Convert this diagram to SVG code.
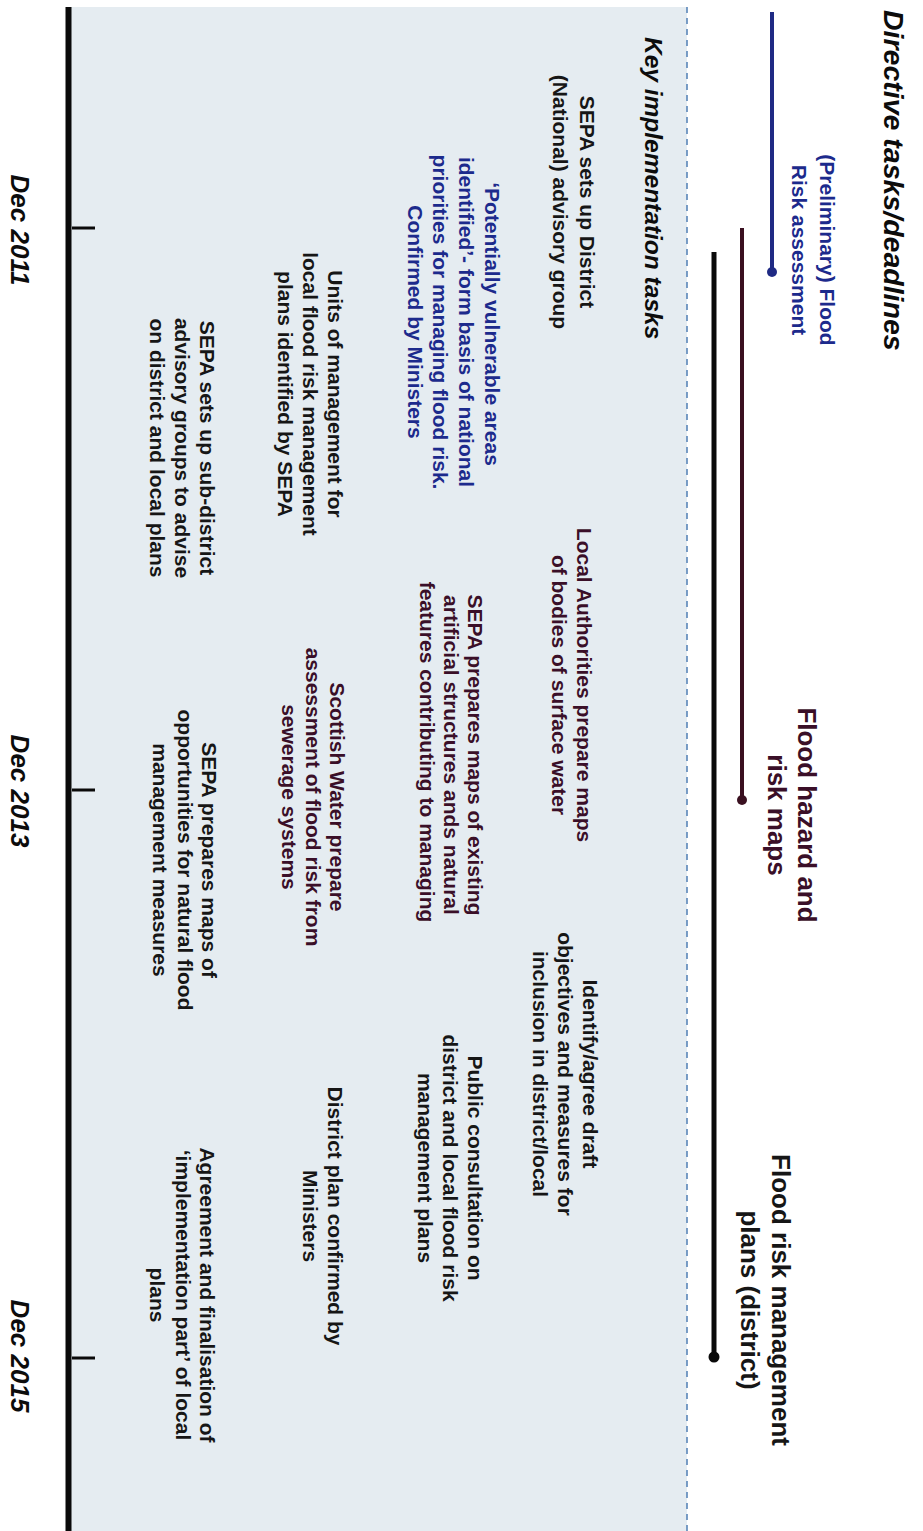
<svg xmlns="http://www.w3.org/2000/svg" width="923" height="1531" viewBox="0 0 923 1531">
<style>
text{font-family:"Liberation Sans",Arial,Helvetica,sans-serif;font-weight:bold;}
.b{font-size:21px;text-anchor:middle;}
.k{fill:#161616;}
.bl{fill:#1c2a8c;}
.m{fill:#3a0f28;}
.h{font-size:26px;text-anchor:middle;}
.it{font-style:italic;fill:#0c0c0c;}
</style>
<rect width="923" height="1531" fill="#ffffff"/>
<g transform="translate(923 0) rotate(90)">
  <g id="panel">
    <rect x="7" y="236" width="1524" height="617" fill="#e5ecf1"/>
    <line x1="7" y1="236" x2="1531" y2="236" stroke="#5a86b8" stroke-width="1.6" stroke-dasharray="6 5"/>
  </g>
  <g id="axis">
    <line x1="7" y1="854.5" x2="1531" y2="854.5" stroke="#0a0a0a" stroke-width="6"/>
    <line x1="228" y1="851" x2="228" y2="828" stroke="#0a0a0a" stroke-width="3"/>
    <line x1="790" y1="851" x2="790" y2="828" stroke="#0a0a0a" stroke-width="3"/>
    <line x1="1358" y1="851" x2="1358" y2="828" stroke="#0a0a0a" stroke-width="3"/>
  </g>
  <g id="dates">
    <text class="it" x="230" y="912" font-size="26" text-anchor="middle">Dec 2011</text>
    <text class="it" x="791" y="912" font-size="26" text-anchor="middle">Dec 2013</text>
    <text class="it" x="1356" y="912" font-size="26" text-anchor="middle">Dec 2015</text>
  </g>
  <g id="connectors">
    <line x1="12" y1="151" x2="272" y2="151" stroke="#1f2a84" stroke-width="4"/>
    <circle cx="272" cy="151" r="5" fill="#1f2a84"/>
    <line x1="228" y1="181" x2="800" y2="181" stroke="#3a1020" stroke-width="4"/>
    <circle cx="800" cy="181" r="5" fill="#3a1020"/>
    <line x1="252" y1="209" x2="1357" y2="209" stroke="#0a0a0a" stroke-width="5"/>
    <circle cx="1357" cy="209" r="5.5" fill="#0a0a0a"/>
  </g>
  <g id="title-directive">
    <text class="it" x="10" y="39" font-size="28.5">Directive tasks/deadlines</text>
  </g>
  <g id="title-key">
    <text class="it" x="37" y="278" font-size="24.5">Key implementation tasks</text>
  </g>
  <g id="task-preliminary">
    <text class="b bl" x="250" y="103">(Preliminary) Flood</text>
    <text class="b bl" x="250" y="131">Risk assessment</text>
  </g>
  <g id="task-hazard-maps">
    <text class="h m" x="815" y="125">Flood hazard and</text>
    <text class="h m" x="815" y="155">risk maps</text>
  </g>
  <g id="task-frmp">
    <text class="h k" x="1300" y="151">Flood risk management</text>
    <text class="h k" x="1300" y="182">plans (district)</text>
  </g>
  <g id="n-advisory">
    <text class="b k" x="202" y="343">SEPA sets up District</text>
    <text class="b k" x="202" y="370">(National) advisory group</text>
  </g>
  <g id="n-pva">
    <text class="b bl" x="324" y="438">‘Potentially vulnerable areas</text>
    <text class="b bl" x="322" y="464">identified’- form basis of national</text>
    <text class="b bl" x="322" y="490">priorities for managing flood risk.</text>
    <text class="b bl" x="322" y="515">Confirmed by Ministers</text>
  </g>
  <g id="n-units">
    <text class="b k" x="394" y="595">Units of management for</text>
    <text class="b k" x="394" y="620">local flood risk management</text>
    <text class="b k" x="394" y="645">plans identified by SEPA</text>
  </g>
  <g id="n-subdistrict">
    <text class="b k" x="448" y="723">SEPA sets up sub-district</text>
    <text class="b k" x="448" y="748">advisory groups to advise</text>
    <text class="b k" x="448" y="773">on district and local plans</text>
  </g>
  <g id="n-local-authorities">
    <text class="b m" x="685" y="346">Local Authorities prepare maps</text>
    <text class="b m" x="685" y="371">of bodies of surface water</text>
  </g>
  <g id="n-sepa-structures">
    <text class="b m" x="755" y="455">SEPA prepares maps of existing</text>
    <text class="b m" x="755" y="479">artificial structures ands natural</text>
    <text class="b m" x="752" y="503">features contributing to managing</text>
  </g>
  <g id="n-scottish-water">
    <text class="b m" x="797" y="593">Scottish Water prepare</text>
    <text class="b m" x="797" y="617">assessment of flood risk from</text>
    <text class="b m" x="797" y="641">sewerage systems</text>
  </g>
  <g id="n-natural-flood">
    <text class="b k" x="860" y="721">SEPA prepares maps of</text>
    <text class="b k" x="860" y="745">opportunities for natural flood</text>
    <text class="b k" x="860" y="770">management measures</text>
  </g>
  <g id="n-objectives">
    <text class="b k" x="1074" y="340">Identify/agree draft</text>
    <text class="b k" x="1074" y="365">objectives and measures for</text>
    <text class="b k" x="1074" y="390">inclusion in district/local</text>
  </g>
  <g id="n-consultation">
    <text class="b k" x="1168" y="455">Public consultation on</text>
    <text class="b k" x="1168" y="480">district and local flood risk</text>
    <text class="b k" x="1168" y="505">management plans</text>
  </g>
  <g id="n-district-plan">
    <text class="b k" x="1216" y="595">District plan confirmed by</text>
    <text class="b k" x="1216" y="620">Ministers</text>
  </g>
  <g id="n-agreement">
    <text class="b k" x="1295" y="723">Agreement and finalisation of</text>
    <text class="b k" x="1295" y="747">‘implementation part’ of local</text>
    <text class="b k" x="1295" y="773">plans</text>
  </g>
</g>
</svg>
